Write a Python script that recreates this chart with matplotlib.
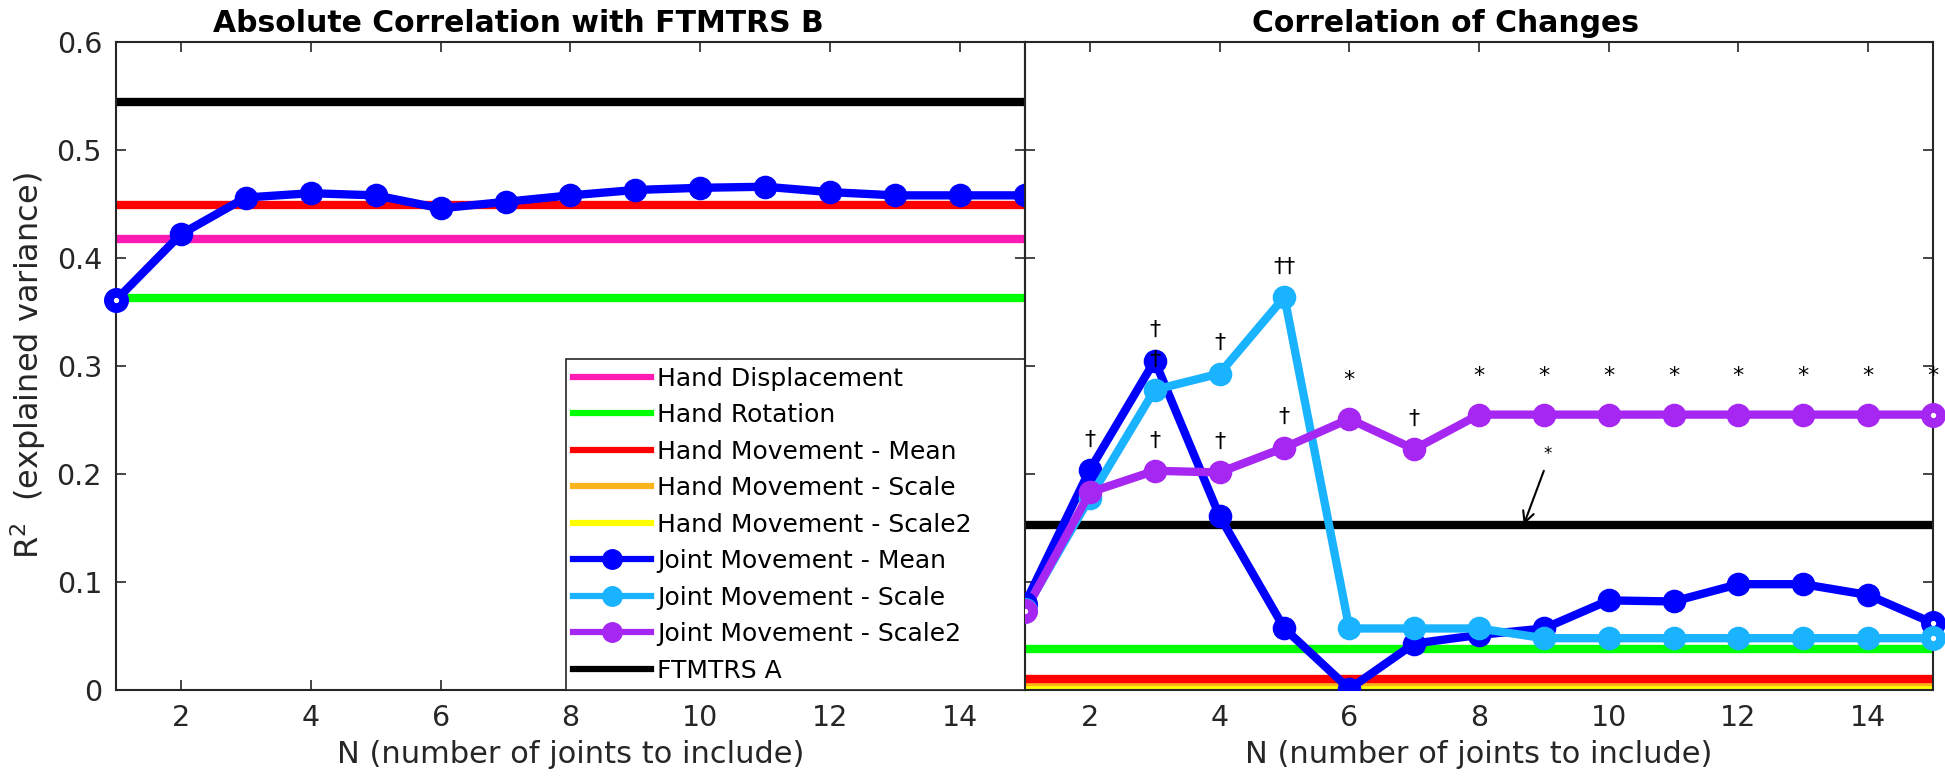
import numpy as np
import matplotlib
matplotlib.use('Agg')
import matplotlib.pyplot as plt
from matplotlib.lines import Line2D

# N = number of joints
n_joints = np.arange(1, 16)

# Left panel: absolute correlation with FTMTRS B
abs_joint_mean = [0.361, 0.422, 0.456, 0.460, 0.458, 0.446, 0.452, 0.458,
                  0.463, 0.465, 0.466, 0.461, 0.458, 0.458, 0.458]
abs_hand_disp = 0.418
abs_hand_rot = 0.363
abs_hand_mean = 0.449
abs_ftmtrs_a = 0.544

# Right panel: correlation of changes
chg_joint_mean = [0.080, 0.204, 0.305, 0.161, 0.057, 0.001, 0.043, 0.051,
                  0.057, 0.083, 0.082, 0.098, 0.098, 0.088, 0.062]
chg_joint_scale = [0.074, 0.178, 0.278, 0.293, 0.364, 0.057, 0.057, 0.057,
                   0.048, 0.048, 0.048, 0.048, 0.048, 0.048, 0.048]
chg_joint_scale2 = [0.073, 0.183, 0.203, 0.2015, 0.2245, 0.251, 0.223, 0.255,
                    0.255, 0.255, 0.255, 0.255, 0.255, 0.255, 0.255]
chg_hand_rot = 0.038
chg_hand_mean = 0.010
chg_hand_scale = 0.007
chg_hand_scale2 = 0.003
chg_ftmtrs_a = 0.153

# significance marks: (series, N, symbol)
sig_marks = [('mean', 2, '\u2020'), ('mean', 3, '\u2020'),
             ('scale', 3, '\u2020'), ('scale', 4, '\u2020'), ('scale', 5, '\u2020\u2020'),
             ('scale2', 3, '\u2020'), ('scale2', 4, '\u2020'), ('scale2', 5, '\u2020'),
             ('scale2', 6, '*'), ('scale2', 7, '\u2020')]
sig_marks += [('scale2', n, '*') for n in range(8, 16)]

labels = ['Hand Displacement', 'Hand Rotation', 'Hand Movement - Mean',
          'Hand Movement - Scale', 'Hand Movement - Scale2',
          'Joint Movement - Mean', 'Joint Movement - Scale',
          'Joint Movement - Scale2', 'FTMTRS A']

c_disp = '#ff1ab3'
c_rot = '#00ff00'
c_mean = '#ff0000'
c_scale = '#ffb31a'
c_scale2 = '#ffff00'
c_jmean = '#0000ff'
c_jscale = '#1ab3ff'
c_jscale2 = '#a626f2'
c_ftm = '#000000'
gray = '#262626'

LW = 6
MS = 14

plt.rcParams['font.family'] = ['DejaVu Sans']

fig = plt.figure(figsize=(19.45, 7.82), dpi=100)
ax1 = fig.add_axes([0.0596, 0.1176, 0.4674, 0.8287])
ax2 = fig.add_axes([0.527, 0.1176, 0.4668, 0.8287])


def joint_line(ax, y, color, hollow_idx, clip):
    ax.plot(n_joints, y, color=color, lw=LW, marker='o', ms=MS, mew=3,
            mfc=color, mec=color, zorder=3, clip_on=clip,
            markevery=[i for i in range(len(y)) if i not in hollow_idx])
    for i in hollow_idx:
        ax.plot(n_joints[i], y[i], 'o', color=color, ms=11, mew=7,
                mfc='white', mec=color, zorder=3.1, clip_on=(i == 0 and ax is ax2))


# left panel
ax1.axhline(abs_hand_disp, color=c_disp, lw=LW)
ax1.axhline(abs_hand_rot, color=c_rot, lw=LW)
ax1.axhline(abs_hand_mean, color=c_mean, lw=LW)
ax1.axhline(abs_ftmtrs_a, color=c_ftm, lw=LW)
ax1.axhline(0, color='k', lw=2, dashes=(1, 2))
joint_line(ax1, abs_joint_mean, c_jmean, [0], False)

# right panel
ax2.axhline(chg_hand_rot, color=c_rot, lw=LW)
ax2.axhline(chg_hand_scale2, color=c_scale2, lw=LW)
ax2.axhline(chg_hand_scale, color=c_scale, lw=LW)
ax2.axhline(chg_hand_mean, color=c_mean, lw=LW)
ax2.axhline(chg_ftmtrs_a, color=c_ftm, lw=LW)
ax2.axhline(0, color='k', lw=2, dashes=(1, 2))
series = {'mean': chg_joint_mean, 'scale': chg_joint_scale, 'scale2': chg_joint_scale2}
joint_line(ax2, chg_joint_mean, c_jmean, [0, 14], True)
joint_line(ax2, chg_joint_scale, c_jscale, [0, 14], True)
joint_line(ax2, chg_joint_scale2, c_jscale2, [0, 14], True)

for name, n, sym in sig_marks:
    yv = series[name][n - 1]
    off = 0.028 if sym != '*' else 0.036
    ax2.text(n, yv + off, sym, ha='center', va='center', fontsize=16,
             color='k', zorder=6, clip_on=False)

# arrow pointing at FTMTRS A
ax2.annotate('', xy=(8.69, chg_ftmtrs_a), xytext=(9.0, 0.203),
             arrowprops=dict(arrowstyle='->', lw=1.5, color='k',
                             mutation_scale=20, shrinkA=0, shrinkB=0))
ax2.text(9.06, 0.219, '*', ha='center', va='center', fontsize=12)

for ax in (ax1, ax2):
    ax.set_xlim(1, 15)
    ax.set_ylim(0, 0.6)
    ax.set_xticks(range(2, 15, 2))
    ax.set_yticks(np.arange(0, 0.61, 0.1))
    ax.tick_params(direction='in', length=7, width=1.2, top=True, right=True,
                   labelsize=20.5, colors=gray, pad=10)
    for sp in ax.spines.values():
        sp.set_color(gray)
        sp.set_linewidth(1.5)
        sp.set_zorder(2.5)
    ax.set_xlabel('N (number of joints to include)', fontsize=22, color=gray, labelpad=6)

ax1.set_yticklabels(['0', '0.1', '0.2', '0.3', '0.4', '0.5', '0.6'])
ax2.tick_params(labelleft=False)
ax1.set_ylabel('R$^2$  (explained variance)', fontsize=23, color=gray, labelpad=6)

ax1.set_title('Absolute Correlation with FTMTRS B', fontsize=21.5, fontweight='bold',
              pad=7, x=0.443)
ax2.set_title('Correlation of Changes', fontsize=21.5, fontweight='bold',
              pad=7, x=0.463)

colors = [c_disp, c_rot, c_mean, c_scale, c_scale2, c_jmean, c_jscale, c_jscale2, c_ftm]
handles = []
for lab, col in zip(labels, colors):
    mk = 'o' if lab.startswith('Joint') else None
    handles.append(Line2D([], [], color=col, lw=4.5, marker=mk, ms=MS, mfc=col, mec=col))
leg = ax1.legend(handles, labels, loc='lower left', bbox_to_anchor=(0.495, 0, 0.505, 0),
                 mode='expand', fontsize=18, frameon=True,
                 fancybox=False, framealpha=1, edgecolor=gray, borderaxespad=0,
                 handlelength=3.1, handletextpad=0.25, labelspacing=0.5,
                 borderpad=0.3)
leg.get_frame().set_linewidth(1.2)
leg.set_zorder(10)

fig.savefig('out.png', dpi=100)
plt.close(fig)
